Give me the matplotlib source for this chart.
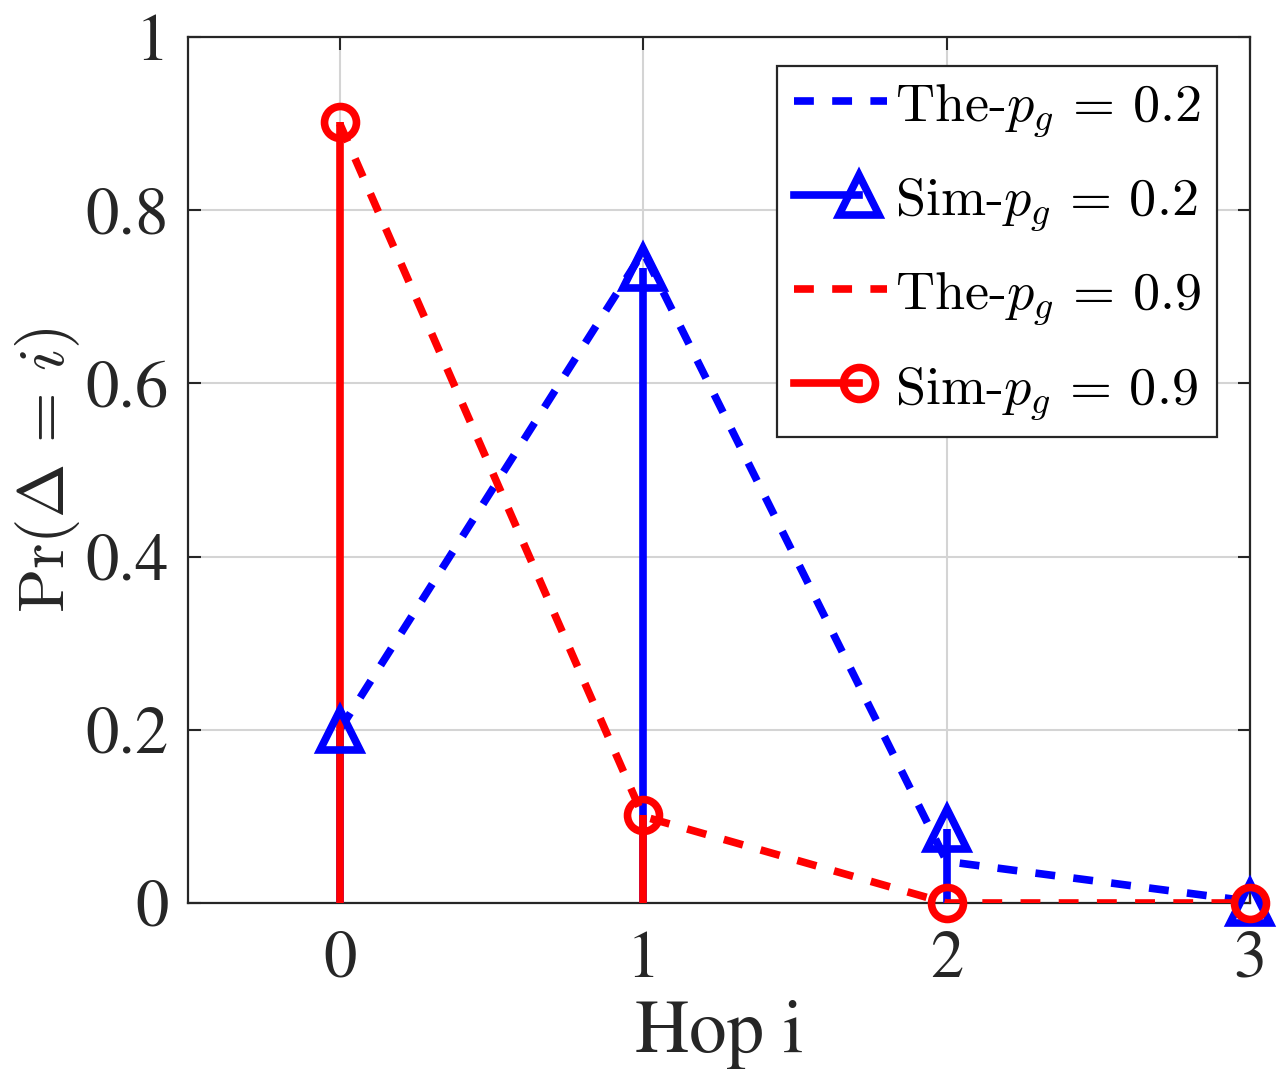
import matplotlib
matplotlib.use("Agg")
import matplotlib.pyplot as plt
from matplotlib.lines import Line2D
from matplotlib.legend_handler import HandlerBase
from matplotlib.ticker import FuncFormatter

plt.rcParams['font.family'] = ['STIXGeneral', 'DejaVu Serif']
plt.rcParams['mathtext.fontset'] = 'cm'

# data
hops = [0, 1, 2, 3]
the_02 = [0.2, 0.752, 0.048, 0.002]
sim_02 = [0.2, 0.733, 0.086, 0.0]
the_09 = [0.9, 0.1, 0.0, 0.0]
sim_09 = [0.902, 0.1016, 0.0, 0.0]
labels = [r'The-$p_g \,=\, 0.2$', r'Sim-$p_g \,=\, 0.2$',
          r'The-$p_g \,=\, 0.9$', r'Sim-$p_g \,=\, 0.9$']

LW = 5.5
DASH = (2.6, 2.4)
INK = '#262626'


class StemHandler(HandlerBase):
    """MATLAB-like stem legend entry: a line with the marker at its right end."""
    def create_artists(self, legend, orig, xdescent, ydescent, width, height,
                       fontsize, trans):
        y = height / 2 - ydescent
        x0 = -xdescent
        x1 = x0 + 0.7 * width
        ln = Line2D([x0, x1], [y, y], color=orig.get_color(), lw=LW)
        mk = Line2D([x1], [y], marker=orig.get_marker(), ms=orig.get_markersize(),
                    mew=orig.get_markeredgewidth(), mfc='none',
                    mec=orig.get_color(), ls='none')
        ln.set_transform(trans)
        mk.set_transform(trans)
        return [ln, mk]


def draw_stem(ax, x, y, color, marker, ms):
    ax.vlines(x, 0, y, colors=color, lw=LW, zorder=3)
    ax.plot(x, y, ls='none', marker=marker, ms=ms, mew=LW, mfc='none',
            mec=color, zorder=4, clip_on=False)
    return Line2D([], [], color=color, marker=marker, ms=ms, mew=LW)


fig = plt.figure(figsize=(12.84, 10.89), dpi=100)
ax = fig.add_axes([188 / 1284, 1 - 903 / 1089, 1062 / 1284, 866 / 1089])

h1, = ax.plot(hops, the_02, color='#0000ff', lw=LW, ls=(0, DASH), zorder=3)
h2 = draw_stem(ax, hops, sim_02, '#0000ff', '^', 29)
h3, = ax.plot(hops, the_09, color='#ff0000', lw=LW, ls=(0, DASH), zorder=3)
h4 = draw_stem(ax, hops, sim_09, '#ff0000', 'o', 23)

ax.set_xlim(-0.5, 3)
ax.set_ylim(0, 1)
ax.set_xticks(hops)
ax.set_yticks([0, 0.2, 0.4, 0.6, 0.8, 1.0])
ax.yaxis.set_major_formatter(FuncFormatter(lambda v, p: f'{v:g}'))
ax.grid(True, color='#d4d4d4', lw=1.5, zorder=0)
ax.set_axisbelow(True)
ax.tick_params(direction='in', length=9, width=1.5, top=True, right=True,
               labelsize=48, colors=INK, pad=14)
ax.tick_params(axis='x', pad=20)
for s in ax.spines.values():
    s.set_color(INK)
    s.set_linewidth(1.6)

ax.set_xlabel('Hop i', fontsize=54, color=INK)
ax.xaxis.set_label_coords(0.5, -0.112)
ax.set_ylabel(r'$\Pr(\Delta \,=\, i)$', fontsize=47, color=INK)
ax.yaxis.set_label_coords(-0.1, 0.5)

leg = ax.legend([h1, h2, h3, h4], labels, loc='upper right',
                bbox_to_anchor=(0.969, 0.9665), borderaxespad=0,
                prop={'family': 'cmr10', 'size': 39},
                handlelength=1.72, handletextpad=0.15, borderpad=0.3,
                labelspacing=0.7, fancybox=False, framealpha=1,
                edgecolor=INK, handler_map={h2: StemHandler(), h4: StemHandler()})
leg.get_frame().set_linewidth(1.6)
for h in leg.get_lines():
    h.set_linewidth(LW)

fig.savefig('out.png', dpi=100, facecolor='white')
